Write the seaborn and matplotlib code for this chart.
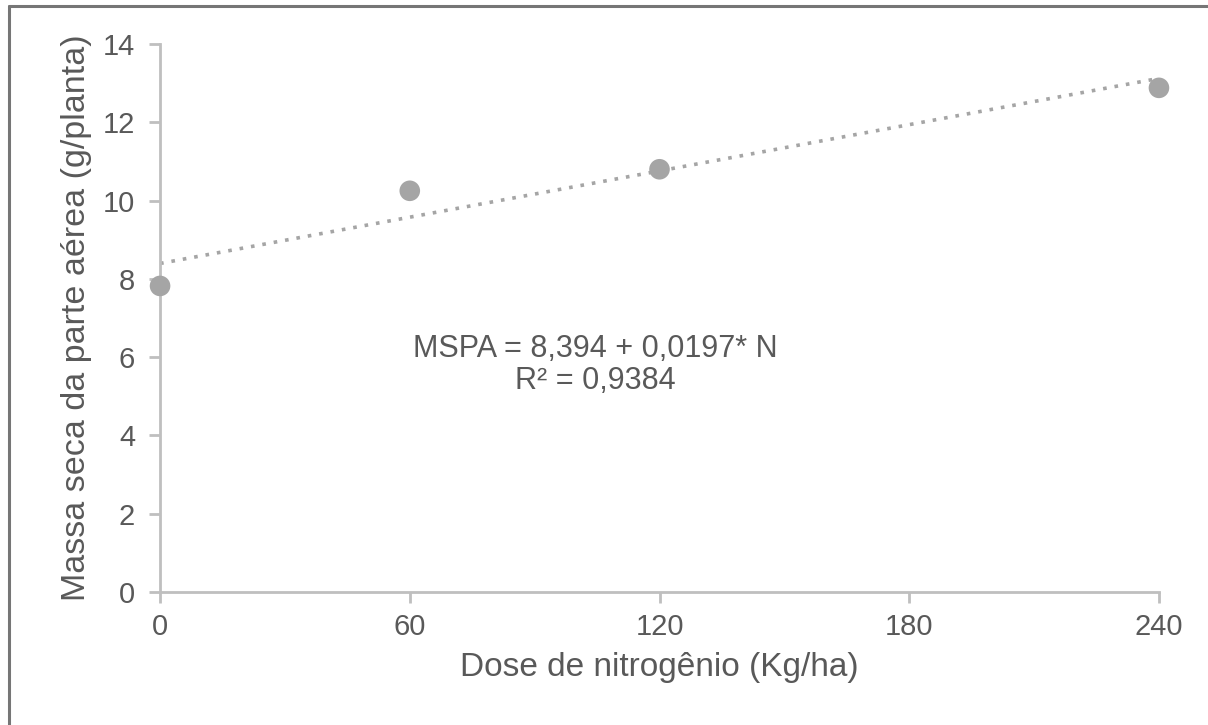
import matplotlib
matplotlib.use("Agg")
import matplotlib.pyplot as plt
import seaborn as sns
import pandas as pd
from matplotlib.lines import Line2D

# dados
doses = [0, 60, 120, 240]
mspa = [7.82, 10.25, 10.80, 12.88]

# linha de tendência: MSPA = 8,394 + 0,0197*N
trend_x = [0, 240]
trend_y = [8.394, 13.122]

x_ticks = [0, 60, 120, 180, 240]
y_ticks = [0, 2, 4, 6, 8, 10, 12, 14]

df = pd.DataFrame({"dose": doses, "mspa": mspa})
df_trend = pd.DataFrame({"dose": trend_x, "mspa": trend_y})

sns.set_style("white")
plt.rcParams["font.family"] = ["Liberation Sans", "DejaVu Sans"]

text_color = "#595959"
axis_color = "#BFBFBF"
mark_color = "#A5A5A5"

fig = plt.figure(figsize=(12.08, 7.25), dpi=100)
ax = fig.add_axes([0.1325, 0.1834, 0.8269, 0.7559])

sns.lineplot(data=df_trend, x="dose", y="mspa", ax=ax, color=mark_color,
             linestyle=(0, (1, 2.2)), linewidth=2.6, zorder=2)
sns.scatterplot(data=df, x="dose", y="mspa", ax=ax, color=mark_color,
                s=220, edgecolor="none", zorder=3, clip_on=False)

ax.set_xlim(0, 240)
ax.set_ylim(0, 14)
ax.set_xticks(x_ticks)
ax.set_yticks(y_ticks)
ax.set_xticklabels([str(v) for v in x_ticks])
ax.set_yticklabels([str(v) for v in y_ticks])

for side in ["top", "right"]:
    ax.spines[side].set_visible(False)
for side in ["left", "bottom"]:
    ax.spines[side].set_color(axis_color)
    ax.spines[side].set_linewidth(2)

ax.tick_params(axis="both", direction="out", length=8, width=2,
               bottom=True, left=True,
               color=axis_color, labelcolor=text_color, labelsize=21)
ax.tick_params(axis="y", pad=10)
ax.tick_params(axis="x", pad=7)

ax.set_xlabel("Dose de nitrogênio (Kg/ha)", fontsize=24, color=text_color, labelpad=8)
ax.set_ylabel("Massa seca da parte aérea (g/planta)", fontsize=24.5, color=text_color, labelpad=8)

ax.text(104.5, 5.8, "MSPA = 8,394 + 0,0197* N\nR² = 0,9384", ha="center", va="center",
        fontsize=22, color=text_color, linespacing=1.1)

# moldura externa (apenas topo e esquerda visíveis)
fig.add_artist(Line2D([0.0075, 1.0], [0.9917, 0.9917], transform=fig.transFigure,
                      color="#767676", linewidth=2.2))
fig.add_artist(Line2D([0.0075, 0.0075], [0.0, 0.9917], transform=fig.transFigure,
                      color="#767676", linewidth=2.2))

fig.savefig("out.png", dpi=100, facecolor="white")
